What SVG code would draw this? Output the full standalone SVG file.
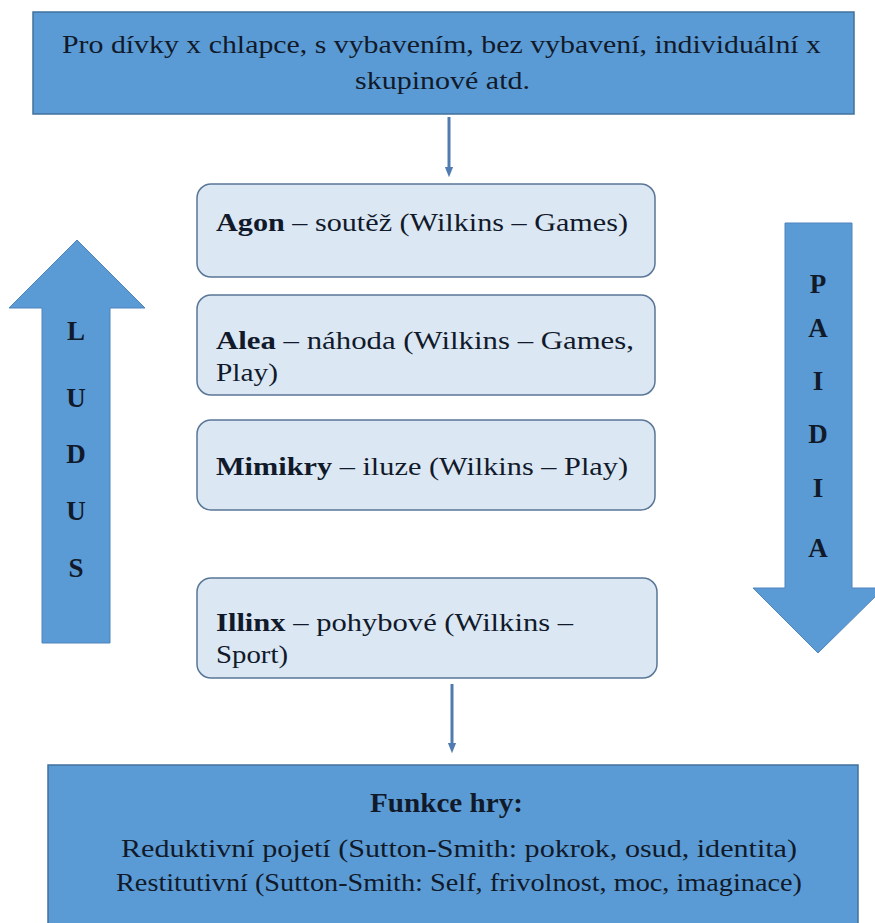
<svg xmlns="http://www.w3.org/2000/svg" width="875" height="923" viewBox="0 0 875 923">
<defs>
<style>
.t{font-family:"Liberation Serif","Times New Roman",Tinos,serif;font-size:26px;fill:#111a2a}
.b{font-weight:bold}
.big{fill:#5b9bd5;stroke:#41719c;stroke-width:1.5}
.box{fill:#dce7f4;stroke:#5a7697;stroke-width:1.5}
.arr{fill:#5b9bd5;stroke:#4f83bd;stroke-width:1}
.ltr{font-family:"Liberation Serif","Times New Roman",Tinos,serif;font-size:27px;font-weight:bold;fill:#111a2a;text-anchor:middle}
.con{stroke:#4f7bb0;stroke-width:3;fill:none}
</style>
<marker id="ah" viewBox="0 0 10 10" refX="5" refY="5" markerWidth="3.5" markerHeight="3.5" orient="auto">
<path d="M0,1 L10,5 L0,9 z" fill="#4f7bb0"/>
</marker>
</defs>
<rect width="875" height="923" fill="#fff"/>

<g id="top">
<rect class="big" x="33" y="12" width="821" height="102"/>
<text class="t" x="62" y="53" textLength="759" lengthAdjust="spacingAndGlyphs">Pro dívky x chlapce, s vybavením, bez vybavení, individuální x</text>
<text class="t" x="355" y="89" textLength="175" lengthAdjust="spacingAndGlyphs">skupinové atd.</text>
</g>

<g id="ludus">
<polygon class="arr" points="77,240 145,308 110,308 110,643 42,643 42,308 9,308"/>
<text class="ltr" x="76" y="340">L</text>
<text class="ltr" x="76" y="407">U</text>
<text class="ltr" x="76" y="463">D</text>
<text class="ltr" x="76" y="520">U</text>
<text class="ltr" x="76" y="577">S</text>
</g>

<g id="paidia">
<polygon class="arr" points="785,223 852,223 852,588 884,588 818,653 753,588 785,588"/>
<text class="ltr" x="818" y="293">P</text>
<text class="ltr" x="818" y="337">A</text>
<text class="ltr" x="818" y="390">I</text>
<text class="ltr" x="818" y="443">D</text>
<text class="ltr" x="818" y="497">I</text>
<text class="ltr" x="818" y="557">A</text>
</g>

<g id="agon">
<rect class="box" x="197" y="184" width="458" height="93" rx="14"/>
<text class="t" x="216" y="231" textLength="412" lengthAdjust="spacingAndGlyphs"><tspan class="b">Agon</tspan> – soutěž (Wilkins – Games)</text>
</g>

<g id="alea">
<rect class="box" x="197" y="295" width="458" height="100" rx="14"/>
<text class="t" x="216" y="349" textLength="418" lengthAdjust="spacingAndGlyphs"><tspan class="b">Alea</tspan> – náhoda (Wilkins – Games,</text>
<text class="t" x="216" y="381" textLength="62" lengthAdjust="spacingAndGlyphs">Play)</text>
</g>

<g id="mimikry">
<rect class="box" x="197" y="420" width="458" height="90" rx="14"/>
<text class="t" x="216" y="475" textLength="412" lengthAdjust="spacingAndGlyphs"><tspan class="b">Mimikry</tspan> – iluze (Wilkins – Play)</text>
</g>

<g id="illinx">
<rect class="box" x="197" y="578" width="460" height="100" rx="14"/>
<text class="t" x="216" y="631" textLength="357" lengthAdjust="spacingAndGlyphs"><tspan class="b">Illinx</tspan> – pohybové (Wilkins –</text>
<text class="t" x="216" y="663" textLength="72" lengthAdjust="spacingAndGlyphs">Sport)</text>
</g>

<g id="funkce">
<rect class="big" x="48" y="765" width="810" height="170"/>
<text class="t b" x="370" y="812" textLength="153" lengthAdjust="spacingAndGlyphs" style="font-size:28px">Funkce hry:</text>
<text class="t" x="121" y="857" textLength="676" lengthAdjust="spacingAndGlyphs">Reduktivní pojetí (Sutton-Smith: pokrok, osud, identita)</text>
<text class="t" x="116" y="891" textLength="686" lengthAdjust="spacingAndGlyphs">Restitutivní (Sutton-Smith: Self, frivolnost, moc, imaginace)</text>
</g>

<g id="connectors">
<line class="con" x1="449" y1="117" x2="449" y2="172" marker-end="url(#ah)"/>
<line class="con" x1="452" y1="684" x2="452" y2="748" marker-end="url(#ah)"/>
</g>
</svg>
